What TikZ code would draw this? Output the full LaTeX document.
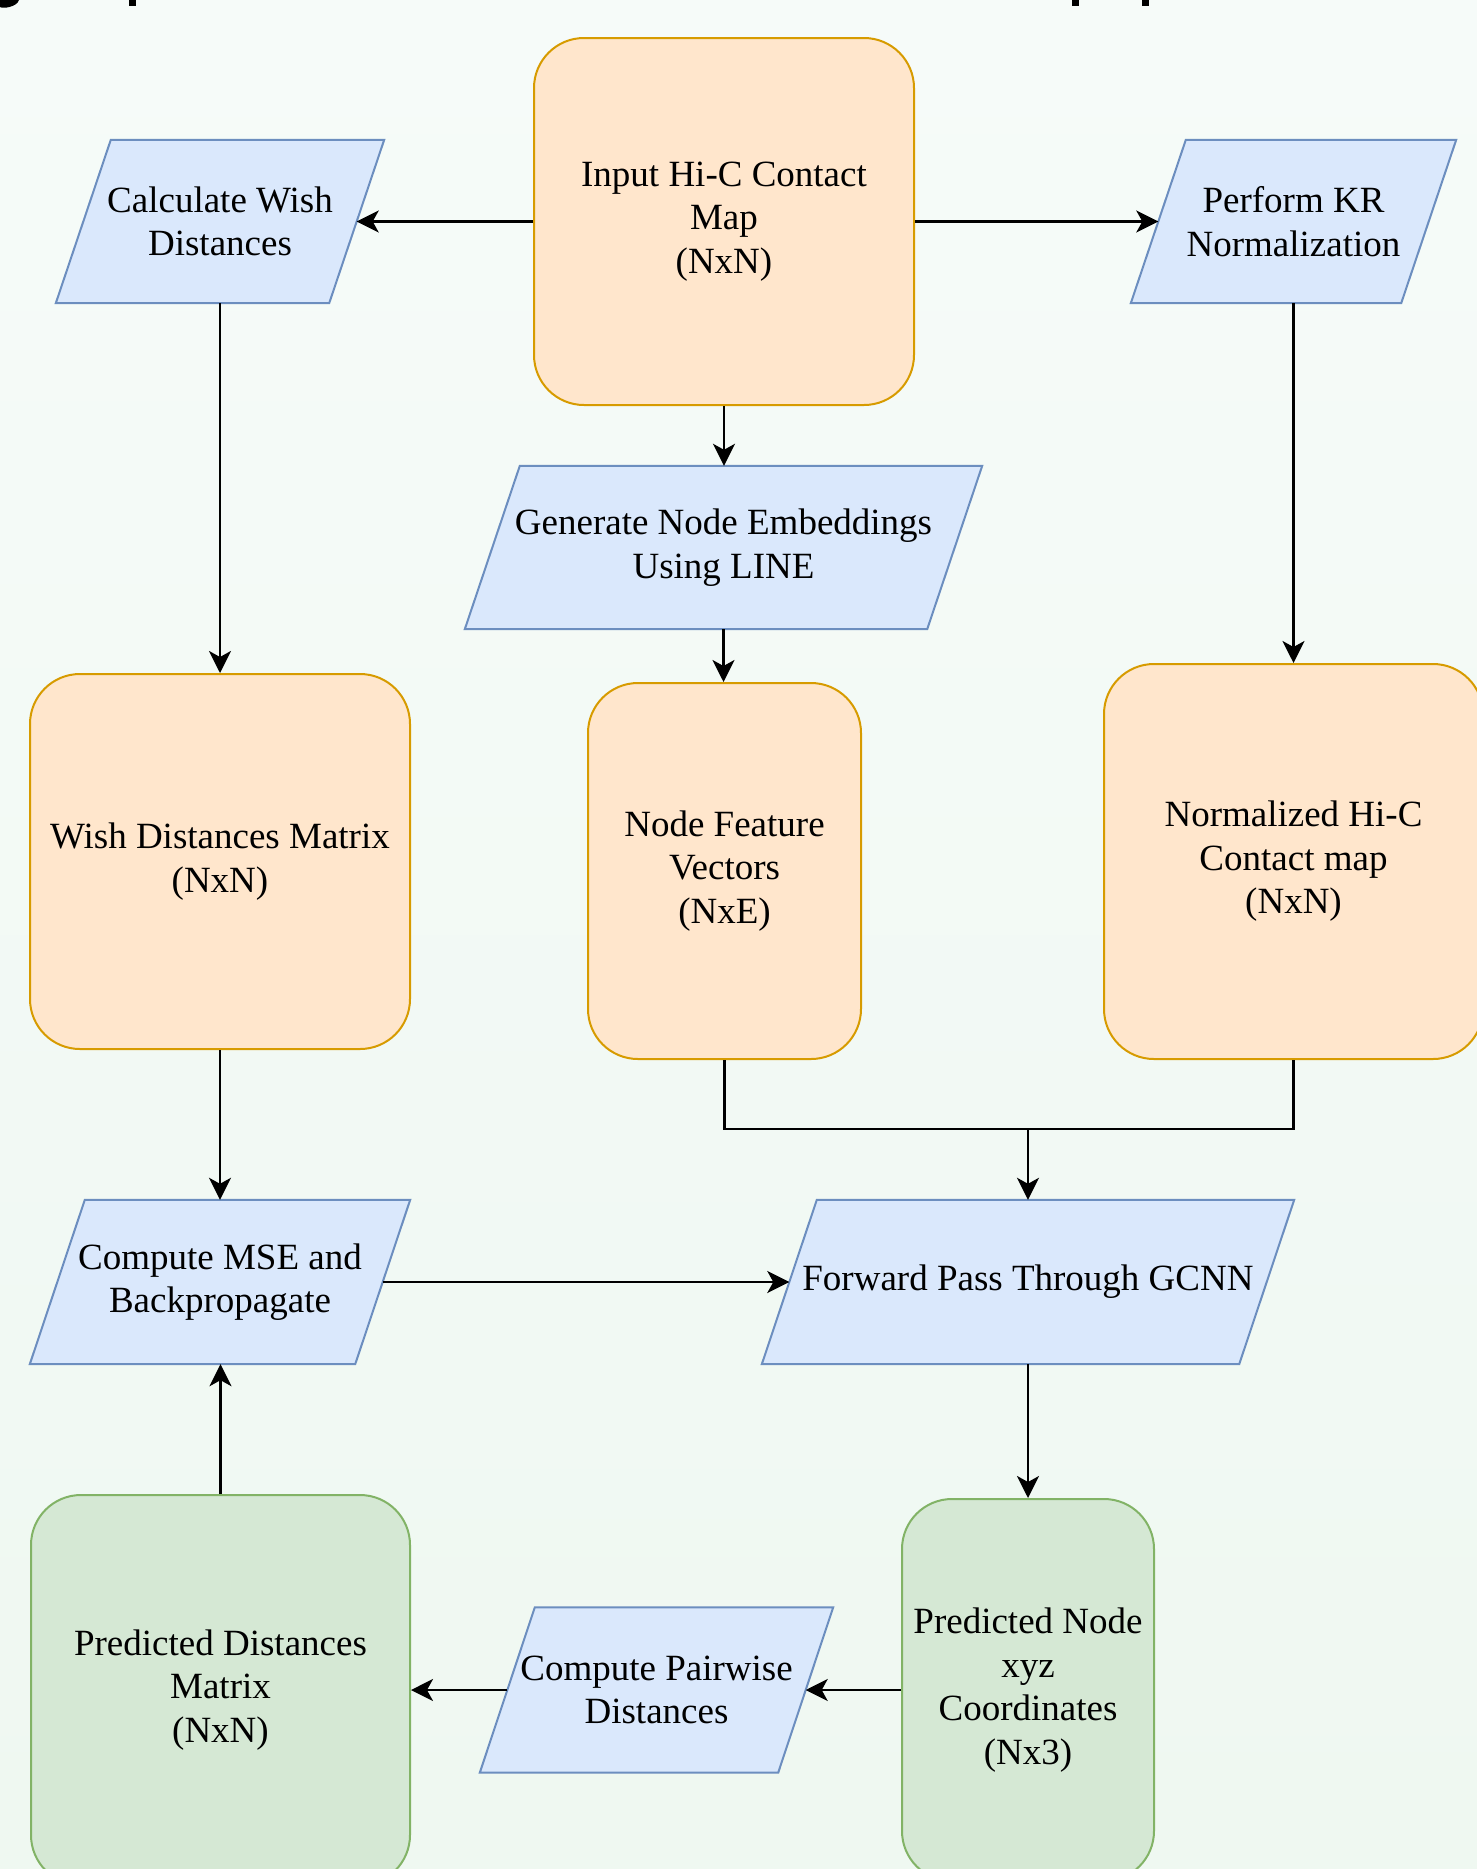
\documentclass[tikz,border=0pt]{standalone}
\usepackage{fontspec}
\setmainfont{Liberation Serif}
\usetikzlibrary{arrows.meta}
\pgfdeclarelayer{bg}
\pgfdeclarelayer{shapes}
\pgfsetlayers{bg,shapes,main}
\definecolor{ofill}{HTML}{FFE6CC}
\definecolor{ostroke}{HTML}{D79B00}
\definecolor{bfill}{HTML}{DAE8FC}
\definecolor{bstroke}{HTML}{6C8EBF}
\definecolor{gfill}{HTML}{D5E8D4}
\definecolor{gstroke}{HTML}{82B366}
\definecolor{bgtop}{RGB}{246,251,249}
\definecolor{bgbot}{RGB}{239,248,241}
\newcommand\drawpara[1]{%
  \filldraw[pshape] ([xshift=55pt]#1.north west) -- (#1.north east)
     -- ([xshift=-55pt]#1.south east) -- (#1.south west) -- cycle;}
\begin{document}
\begin{tikzpicture}[x=1pt,y=-1pt,
  txt/.style={font=\fontsize{37}{43.5}\selectfont, align=center, text=black},
  obox/.style={txt, rectangle, draw=ostroke, fill=ofill, line width=2pt, rounded corners=50pt, inner sep=0pt},
  gbox/.style={txt, rectangle, draw=gstroke, fill=gfill, line width=2pt, rounded corners=50pt, inner sep=0pt},
  para/.style={txt, rectangle, inner sep=0pt},
  pshape/.style={draw=bstroke, fill=bfill, line width=2pt, line join=miter},
  conn/.style={line width=2.6pt, black},
  arr/.style={conn, -{Stealth[length=22pt,width=22pt,inset=6pt]}},
]
\useasboundingbox (0,0) rectangle (1477,1869);
\begin{pgfonlayer}{bg}
\shade[top color=bgtop, bottom color=bgbot] (0,0) rectangle (1477,1869);
\end{pgfonlayer}

% descenders of cut-off title text
\fill[black] (0,0) -- (19,0) .. controls (17,7) and (3,9) .. (0,7) -- cycle;
\fill[black] (129,0) rectangle (136,6);
\fill[black] (1072,0) rectangle (1079,6);
\fill[black] (1142,0) rectangle (1149,6);

\node[obox, minimum width=380, minimum height=367] (in) at (724,221.5) {Input Hi-C Contact\\Map\\(NxN)};
\node[para, minimum width=328, minimum height=163] (cw) at (220,221.5) {Calculate Wish\\Distances};
\node[para, minimum width=325, minimum height=163] (kr) at (1293.5,221.5) {Perform KR\\Normalization};
\node[para, minimum width=517, minimum height=163] (gen) at (723.5,547.5) {Generate Node Embeddings\\Using LINE};

\node[obox, minimum width=380, minimum height=375] (wm) at (220,861.5) {Wish Distances Matrix\\(NxN)};
\node[obox, minimum width=273, minimum height=376] (nf) at (724.5,871) {Node Feature\\Vectors\\(NxE)};
\node[obox, minimum width=379, minimum height=395] (nm) at (1293.5,861.5) {Normalized Hi-C\\Contact map\\(NxN)};

\node[para, minimum width=380, minimum height=164] (mse) at (220,1282) {Compute MSE and\\Backpropagate};
\node[para, minimum width=532, minimum height=164] (fp) at (1028,1282) {Forward Pass Through GCNN};

\node[gbox, minimum width=379, minimum height=390] (pd) at (220.5,1690) {Predicted Distances\\Matrix\\(NxN)};
\node[para, minimum width=353, minimum height=165] (cp) at (656.5,1690) {Compute Pairwise\\Distances};
\node[gbox, minimum width=252, minimum height=382] (pn) at (1028,1690) {Predicted Node\\xyz\\Coordinates\\(Nx3)};

\begin{pgfonlayer}{shapes}
\drawpara{cw}
\drawpara{kr}
\drawpara{gen}
\drawpara{mse}
\drawpara{fp}
\drawpara{cp}
\end{pgfonlayer}

\draw[arr] (in.west) -- ([xshift=-27.5pt]cw.east);
\draw[arr] (in.east) -- ([xshift=27.5pt]kr.west);
\draw[arr] (in.south) -- (in.south |- gen.north);
\draw[arr] (cw.south) -- (wm.north);
\draw[arr] (kr.south) -- (nm.north);
\draw[arr] (gen.south) -- (gen.south |- nf.north);
\draw[arr] (wm.south) -- (wm.south |- mse.north);
\coordinate (j) at (fp.center |- 0,1129);
\draw[conn] (nf.south) |- (j) -| (nm.south);
\draw[arr] (j) -- (j |- fp.north);
\draw[arr] ([xshift=-27.5pt]mse.east) -- ([xshift=27.5pt]fp.west);
\draw[arr] (fp.south) -- (pn.north);
\draw[arr] (pn.west) -- ([xshift=-27.5pt]cp.east);
\draw[arr] ([xshift=27.5pt]cp.west) -- (pd.east);
\draw[arr] (pd.north) -- (pd.north |- mse.south);
\end{tikzpicture}
\end{document}
